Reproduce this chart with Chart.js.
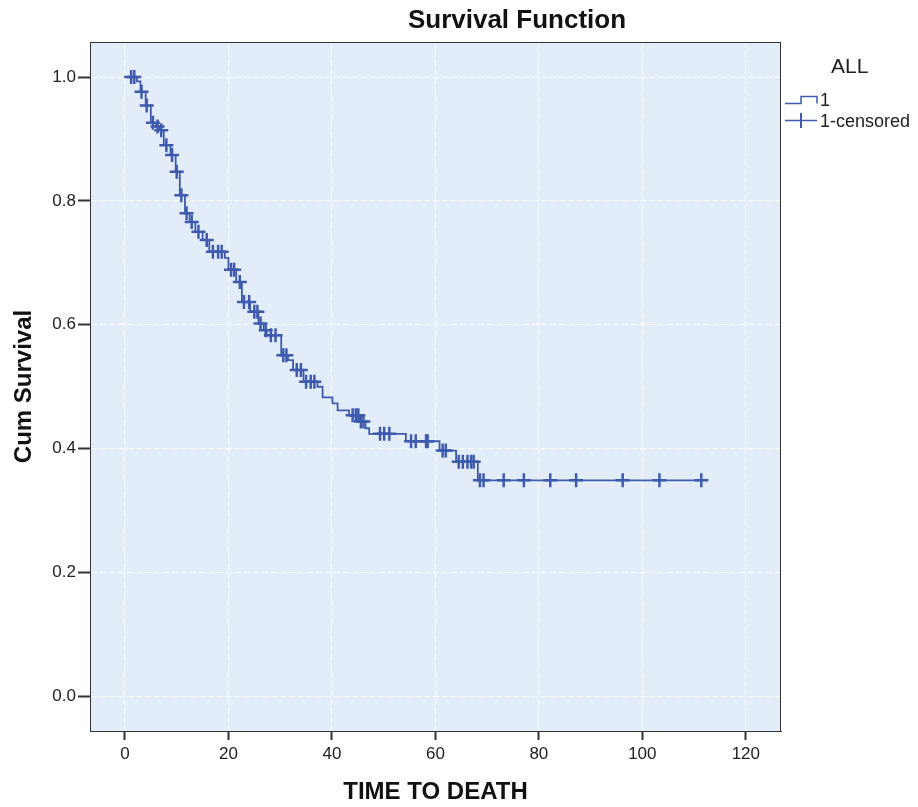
<!DOCTYPE html>
<html>
<head>
<meta charset="utf-8">
<script src="https://cdn.jsdelivr.net/npm/chart.js@4.4.1/dist/chart.umd.min.js"></script>
<style>
  html, body { margin: 0; padding: 0; background: #fff; }
  #wrap { width: 918px; height: 807px; position: relative; }
</style>
</head>
<body>
<div id="wrap"><canvas id="chart"></canvas></div>
<script>
// event times (deaths) and survival right after each step
const eventTimes = [2.3, 3.0, 4.0, 5.0, 6.0, 6.6, 7.5, 8.8, 9.8, 10.6, 11.6, 12.5, 13.6, 15.0, 16.3, 19.3,
  20.0, 21.5, 22.6, 24.2, 25.8, 26.8, 27.4, 30.2, 31.5, 32.5, 34.5, 37.2, 38.2, 40.1, 41.1, 43.3,
  45.3, 46.5, 47.2, 54.3, 60.8, 64.0, 68.2];
const survival = [0.993, 0.976, 0.954, 0.926, 0.920, 0.914, 0.890, 0.874, 0.847, 0.809, 0.780, 0.766, 0.750, 0.737, 0.718, 0.708,
  0.689, 0.669, 0.637, 0.621, 0.602, 0.591, 0.583, 0.551, 0.543, 0.527, 0.508, 0.500, 0.483, 0.473, 0.462, 0.454,
  0.444, 0.433, 0.424, 0.412, 0.397, 0.379, 0.349];
// censored times
const censorTimes = [1.2, 1.8, 3.2, 4.2, 5.4, 6.3, 7.0, 8.0, 9.1, 10.0, 10.9, 11.9, 12.9, 14.2, 15.8, 17.0, 18.0, 18.7,
  20.5, 21.1, 22.2, 23.0, 24.0, 25.0, 25.6, 26.2, 27.2, 28.2, 29.1, 30.6, 31.2, 33.2, 34.0, 35.0, 35.9, 36.6,
  44.0, 44.6, 45.1, 45.6, 46.1, 49.3, 50.1, 51.1, 55.3, 56.2, 58.2, 58.5, 61.4, 62.0, 64.5, 65.3, 66.2, 66.9, 67.4,
  68.6, 69.3, 73.2, 77.1, 82.2, 87.2, 96.2, 103.3, 111.4];

const xTicks = [0, 20, 40, 60, 80, 100, 120];
const yTicks = [0.0, 0.2, 0.4, 0.6, 0.8, 1.0];

const lineColor = "#3E5BAE";
const font = "'Liberation Sans', Arial, sans-serif";

function survAt(t) {
  let s = 1.0;
  for (let i = 0; i < eventTimes.length; i++) {
    if (eventTimes[i] <= t) s = survival[i];
  }
  return s;
}

const stepData = [{ x: 0, y: 1.0 }]
  .concat(eventTimes.map((t, i) => ({ x: t, y: survival[i] })))
  .concat([{ x: censorTimes[censorTimes.length - 1], y: survival[survival.length - 1] }]);

const censorData = censorTimes.map((t) => ({ x: t, y: survAt(t) }));

const plotBox = {
  id: "plotBox",
  beforeDraw(chart) {
    const { ctx, chartArea: a } = chart;
    ctx.save();
    ctx.fillStyle = "#E2EDF9";
    ctx.fillRect(a.left, a.top, a.right - a.left, a.bottom - a.top);
    ctx.restore();
  },
  afterDraw(chart) {
    const { ctx, chartArea: a } = chart;
    ctx.save();
    ctx.strokeStyle = "#333";
    ctx.lineWidth = 1;
    ctx.strokeRect(a.left + 0.5, a.top + 0.5, a.right - a.left - 1, a.bottom - a.top);

    // title
    ctx.fillStyle = "#111";
    ctx.font = "bold 26px " + font;
    ctx.textAlign = "center";
    ctx.textBaseline = "middle";
    ctx.fillText("Survival Function", 517, 21);

    // legend
    ctx.textAlign = "left";
    ctx.fillStyle = "#222";
    ctx.font = "21px " + font;
    ctx.fillText("ALL", 831, 67);
    ctx.font = "18px " + font;
    ctx.fillText("1", 820, 101);
    ctx.fillText("1-censored", 820, 122);

    ctx.strokeStyle = lineColor;
    ctx.lineWidth = 1.5;
    ctx.beginPath();
    ctx.moveTo(785, 103.5);
    ctx.lineTo(801, 103.5);
    ctx.lineTo(801, 96.5);
    ctx.lineTo(817, 96.5);
    ctx.lineTo(817, 103.5);
    ctx.stroke();

    ctx.beginPath();
    ctx.moveTo(785, 120.5);
    ctx.lineTo(817, 120.5);
    ctx.stroke();
    ctx.lineWidth = 2;
    ctx.beginPath();
    ctx.moveTo(801, 113);
    ctx.lineTo(801, 128);
    ctx.stroke();
    ctx.restore();
  },
};

const ctx = document.getElementById("chart").getContext("2d");

new Chart(ctx, {
  type: "line",
  data: {
    datasets: [
      {
        label: "1",
        data: stepData,
        stepped: true,
        borderColor: lineColor,
        borderWidth: 1.8,
        pointRadius: 0,
        fill: false,
      },
      {
        label: "1-censored",
        data: censorData,
        showLine: false,
        pointStyle: "cross",
        pointRadius: 7,
        pointBorderWidth: 2.5,
        borderColor: lineColor,
        backgroundColor: lineColor,
      },
    ],
  },
  options: {
    responsive: true,
    maintainAspectRatio: false,
    animation: false,
    layout: { padding: { left: 0, top: 42, right: 137, bottom: 0 } },
    plugins: {
      legend: { display: false },
      tooltip: { enabled: false },
    },
    scales: {
      x: {
        type: "linear",
        min: -6.76,
        max: 126.8,
        afterBuildTicks: (axis) => {
          axis.ticks = xTicks.map((v) => ({ value: v }));
        },
        afterFit: (scale) => {
          scale.height = 76;
        },
        ticks: {
          color: "#222",
          padding: 4,
          font: { family: font, size: 17 },
          callback: (value) => String(value),
        },
        grid: {
          color: "rgba(255,255,255,0.95)",
          lineWidth: 1,
          tickLength: 9,
          tickColor: "#333",
          tickWidth: 2,
        },
        border: { color: "#333", width: 1, dash: [6, 3] },
        title: {
          display: true,
          text: "TIME TO DEATH",
          color: "#111",
          font: { family: font, size: 24, weight: "bold" },
          padding: { top: 0, bottom: 0 },
        },
      },
      y: {
        type: "linear",
        min: -0.0557,
        max: 1.0565,
        afterBuildTicks: (axis) => {
          axis.ticks = yTicks.map((v) => ({ value: v }));
        },
        afterFit: (scale) => {
          scale.width = 90;
        },
        ticks: {
          color: "#222",
          padding: 2,
          font: { family: font, size: 17 },
          callback: (value) => value.toFixed(1),
        },
        grid: {
          color: "rgba(255,255,255,0.95)",
          lineWidth: 1,
          tickLength: 12,
          tickColor: "#333",
          tickWidth: 2,
        },
        border: { color: "#333", width: 1, dash: [6, 3] },
        title: {
          display: true,
          text: "Cum Survival",
          color: "#111",
          font: { family: font, size: 24, weight: "bold" },
          padding: { top: 10, bottom: 0 },
        },
      },
    },
  },
  plugins: [plotBox],
});
</script>
</body>
</html>
